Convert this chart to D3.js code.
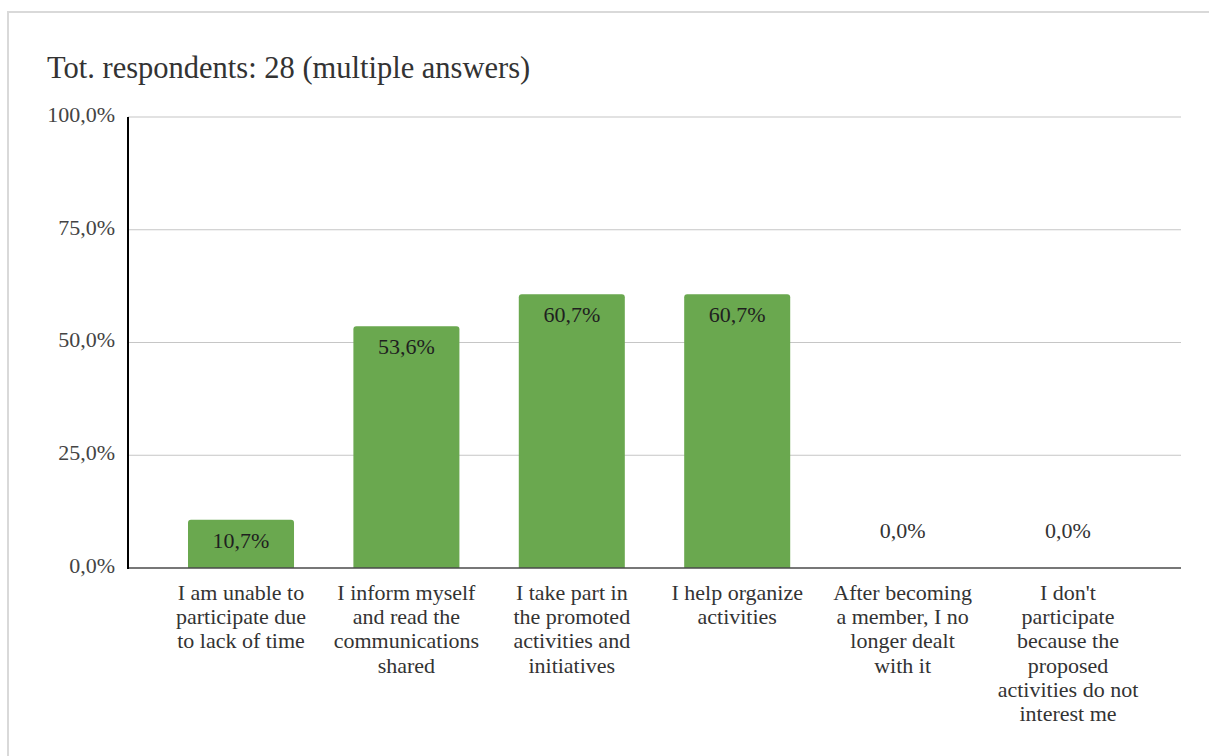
<!DOCTYPE html>
<html>
<head>
<meta charset="utf-8">
<script src="https://cdn.jsdelivr.net/npm/d3@7"></script>
<style>
  html, body { margin: 0; padding: 0; background: #fff; }
  svg { display: block; }
</style>
</head>
<body>
<svg id="chart" width="1209" height="756"></svg>
<script>
// Share of respondents per type of participation (multiple answers allowed)
const categories = [
  ["I am unable to", "participate due", "to lack of time"],
  ["I inform myself", "and read the", "communications", "shared"],
  ["I take part in", "the promoted", "activities and", "initiatives"],
  ["I help organize", "activities"],
  ["After becoming", "a member, I no", "longer dealt", "with it"],
  ["I don't", "participate", "because the", "proposed", "activities do not", "interest me"]
];
const values = [10.7, 53.6, 60.7, 60.7, 0.0, 0.0];
const yTicks = [0, 25, 50, 75, 100];
const titleText = "Tot. respondents: 28 (multiple answers)";

const fontFamily = "'Liberation Serif', 'Times New Roman', serif";
const fmt = v => v.toFixed(1).replace(".", ",") + "%";

const svg = d3.select("#chart");

// card frame
svg.append("path")
  .attr("d", "M8,756 V12 H1209")
  .attr("fill", "none")
  .attr("stroke", "#d9d9d9")
  .attr("stroke-width", 2);

svg.append("text")
  .attr("x", 47).attr("y", 78)
  .attr("font-family", fontFamily)
  .attr("font-size", 30.5)
  .attr("fill", "#333")
  .text(titleText);

const plot = { left: 128, right: 1181, top: 117, bottom: 568 };

const y = d3.scaleLinear().domain([0, 100]).range([plot.bottom, plot.top]);
const x = d3.scaleBand()
  .domain(d3.range(categories.length))
  .range([188, 1121])
  .paddingInner(0.359)
  .paddingOuter(0);

// gridlines
svg.append("g")
  .selectAll("line")
  .data(yTicks.filter(t => t > 0))
  .join("line")
  .attr("x1", plot.left).attr("x2", plot.right)
  .attr("y1", d => y(d)).attr("y2", d => y(d))
  .attr("stroke", "#c6c6c6")
  .attr("stroke-width", 1.2);

// y axis labels
const yAxis = d3.axisLeft(y).tickValues(yTicks).tickFormat(fmt).tickSize(0).tickPadding(13);
const yg = svg.append("g").attr("transform", `translate(${plot.left},0)`).call(yAxis);
yg.select(".domain").remove();
yg.selectAll("text")
  .attr("font-family", fontFamily)
  .attr("font-size", 22)
  .attr("fill", "#444")
  .attr("dy", "0.2em");

// bars with slightly rounded top corners
const r = 3;
svg.append("g")
  .selectAll("path")
  .data(values.map((v, i) => ({ v, i })).filter(d => d.v > 0))
  .join("path")
  .attr("fill", "#6aa84f")
  .attr("d", d => {
    const x0 = x(d.i), w = x.bandwidth(), y0 = y(d.v), yb = y(0);
    return `M${x0},${yb} V${y0 + r} Q${x0},${y0} ${x0 + r},${y0} H${x0 + w - r} Q${x0 + w},${y0} ${x0 + w},${y0 + r} V${yb} Z`;
  });

// value labels
svg.append("g")
  .selectAll("text")
  .data(values.map((v, i) => ({ v, i })))
  .join("text")
  .attr("x", d => x(d.i) + x.bandwidth() / 2)
  .attr("y", d => d.v > 0 ? y(d.v) + 28 : y(0) - 30)
  .attr("text-anchor", "middle")
  .attr("font-family", fontFamily)
  .attr("font-size", 22)
  .attr("fill", d => d.v > 0 ? "#1f1f1f" : "#333")
  .text(d => fmt(d.v));

// axes lines
svg.append("line")
  .attr("x1", plot.left).attr("x2", plot.right)
  .attr("y1", plot.bottom).attr("y2", plot.bottom)
  .attr("stroke", "#4a4a4a").attr("stroke-width", 1.5);
svg.append("line")
  .attr("x1", plot.left).attr("x2", plot.left)
  .attr("y1", plot.top).attr("y2", plot.bottom + 1)
  .attr("stroke", "#000").attr("stroke-width", 2);

// category labels
const xl = svg.append("g")
  .selectAll("text")
  .data(categories.map((lines, i) => ({ lines, i })))
  .join("text")
  .attr("x", d => x(d.i) + x.bandwidth() / 2)
  .attr("y", 600)
  .attr("text-anchor", "middle")
  .attr("font-family", fontFamily)
  .attr("font-size", 22)
  .attr("fill", "#333");
xl.selectAll("tspan")
  .data(d => d.lines.map(l => ({ l, cx: x(d.i) + x.bandwidth() / 2 })))
  .join("tspan")
  .attr("x", t => t.cx)
  .attr("dy", (t, k) => k === 0 ? 0 : 24.2)
  .text(t => t.l);
</script>
</body>
</html>
